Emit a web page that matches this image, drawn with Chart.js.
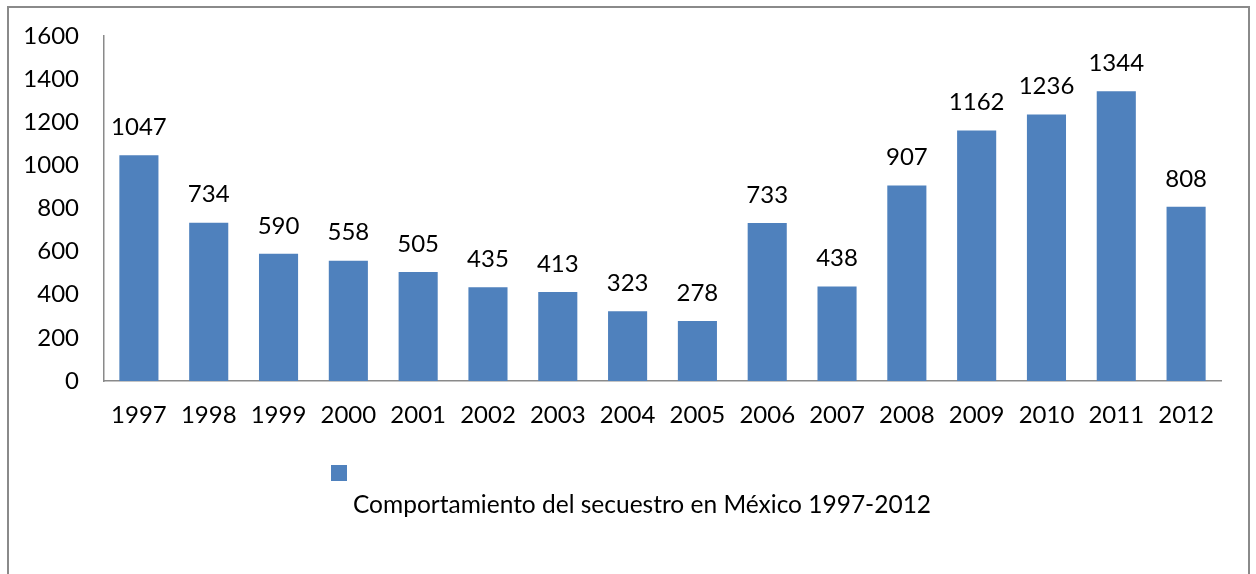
<!DOCTYPE html>
<html>
<head>
<meta charset="utf-8">
<script src="https://cdn.jsdelivr.net/npm/chart.js@4.4.1/dist/chart.umd.min.js"></script>
<style>
  html, body { margin: 0; padding: 0; background: #fff; overflow: hidden; width: 1256px; height: 574px; }
  #wrap { position: absolute; left: 0; top: 0; width: 1256px; height: 574px; }
  #frame { position: absolute; left: 7px; top: 6px; width: 1243px; height: 600px; border: 2px solid #8a8a8a; box-sizing: border-box; pointer-events: none; }
</style>
</head>
<body>
<div id="wrap"><canvas id="c" width="1256" height="574"></canvas></div>
<div id="frame"></div>
<script>
const categories = ["1997","1998","1999","2000","2001","2002","2003","2004","2005","2006","2007","2008","2009","2010","2011","2012"];
const values = [1047, 734, 590, 558, 505, 435, 413, 323, 278, 733, 438, 907, 1162, 1236, 1344, 808];
const seriesLabel = "Comportamiento del secuestro en México 1997-2012";
const yTicks = [0, 200, 400, 600, 800, 1000, 1200, 1400, 1600];

const FONT = "Lato, 'Open Sans', sans-serif";
const barColor = "#4F81BD";

const valueLabels = {
  id: 'valueLabels',
  afterDatasetsDraw(chart) {
    const ctx = chart.ctx;
    const meta = chart.getDatasetMeta(0);
    ctx.save();
    ctx.font = "24px " + FONT;
    ctx.fillStyle = "#000";
    ctx.textAlign = "center";
    ctx.textBaseline = "middle";
    meta.data.forEach((bar, i) => {
      ctx.fillText(String(chart.data.datasets[0].data[i]), bar.x, bar.y - 28);
    });
    ctx.restore();
  }
};

const customLegend = {
  id: 'customLegend',
  afterDraw(chart) {
    const ctx = chart.ctx;
    const ds = chart.data.datasets[0];
    ctx.save();
    ctx.fillStyle = ds.backgroundColor;
    ctx.fillRect(331, 465, 16, 16);
    ctx.font = "24.5px " + FONT;
    ctx.fillStyle = "#000";
    ctx.textAlign = "left";
    ctx.textBaseline = "middle";
    ctx.fillText(ds.label, 353, 505);
    ctx.restore();
  }
};

new Chart(document.getElementById('c'), {
  type: 'bar',
  data: {
    labels: categories,
    datasets: [{
      label: seriesLabel,
      data: values,
      backgroundColor: barColor,
      borderWidth: 0,
      categoryPercentage: 1.0,
      barPercentage: 0.56
    }]
  },
  options: {
    responsive: false,
    animation: false,
    devicePixelRatio: 1,
    layout: { padding: { left: 0, top: 36, right: 35, bottom: 143 } },
    plugins: {
      legend: { display: false },
      tooltip: { enabled: false },
      title: { display: false }
    },
    scales: {
      x: {
        grid: { display: false, drawTicks: false },
        border: { display: true, color: "#8a8a8a", width: 1.5 },
        ticks: { color: "#000", font: { family: FONT, size: 24 }, padding: 20, maxRotation: 0, autoSkip: false },
        afterFit(scale) { scale.height = 50; }
      },
      y: {
        min: 0, max: 1600,
        afterBuildTicks(scale) { scale.ticks = yTicks.map(v => ({ value: v })); },
        grid: { display: false, drawTicks: false },
        border: { display: true, color: "#8a8a8a", width: 1.5 },
        ticks: { color: "#000", font: { family: FONT, size: 24 }, padding: 25, callback: (v) => String(v) },
        afterFit(scale) { scale.width = 104; scale.paddingTop = 0; scale.paddingBottom = 0; }
      }
    }
  },
  plugins: [valueLabels, customLegend]
});
</script>
</body>
</html>
